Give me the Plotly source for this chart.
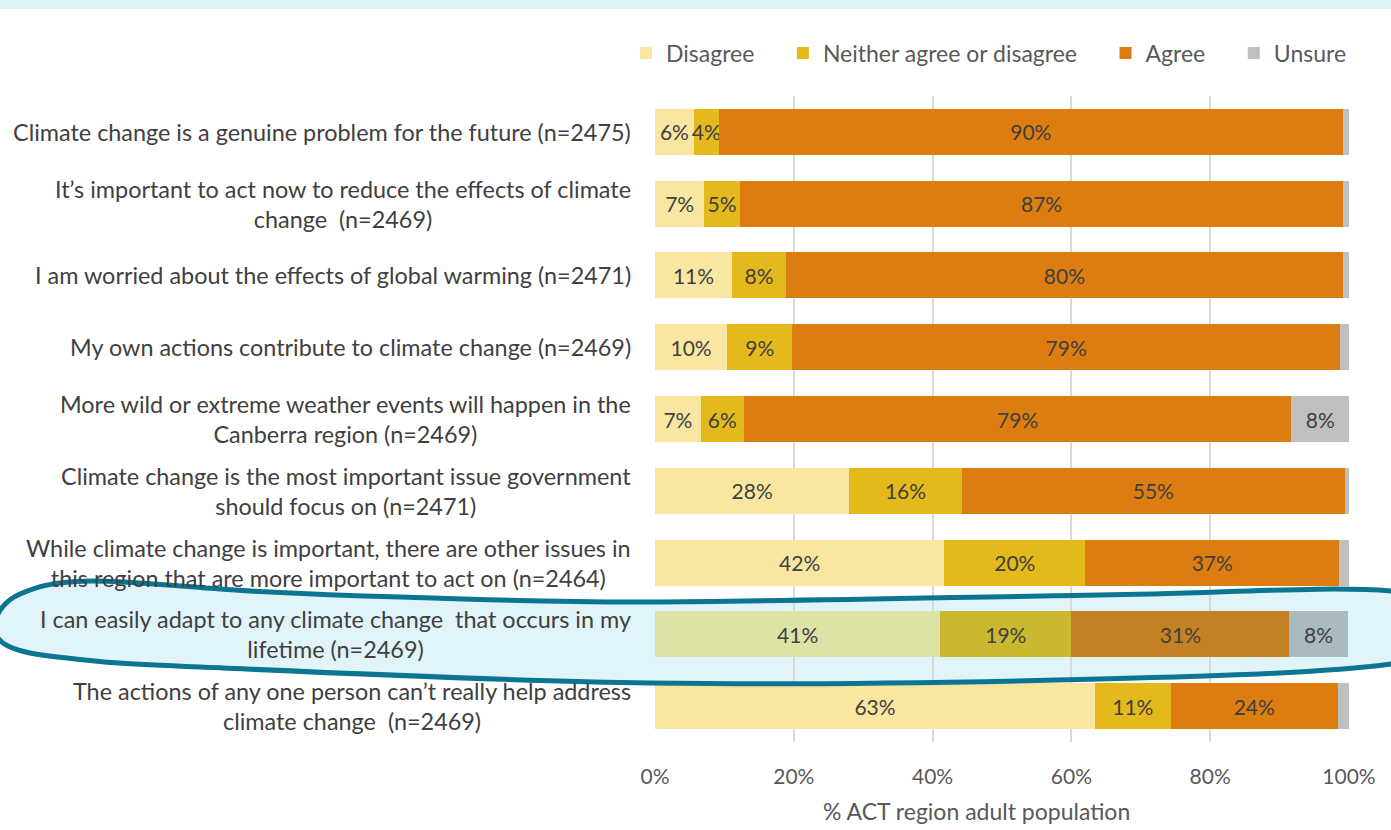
import plotly.graph_objects as go

categories = [
    "Climate change is a genuine problem for the future (n=2475)",
    "It’s important to act now to reduce the effects of climate<br>change  (n=2469)",
    "I am worried about the effects of global warming (n=2471)",
    "My own actions contribute to climate change (n=2469)",
    "More wild or extreme weather events will happen in the<br>Canberra region (n=2469)",
    "Climate change is the most important issue government<br>should focus on (n=2471)",
    "While climate change is important, there are other issues in<br>this region that are more important to act on (n=2464)",
    "I can easily adapt to any climate change  that occurs in my<br>lifetime (n=2469)",
    "The actions of any one person can’t really help address<br>climate change  (n=2469)",
]
disagree = [5.6, 7.1, 11.1, 10.4, 6.6, 28.0, 41.7, 41.1, 63.4]
neither = [3.6, 5.1, 7.8, 9.4, 6.2, 16.2, 20.3, 18.9, 10.9]
agree = [89.9, 87.0, 80.2, 78.9, 78.9, 55.2, 36.6, 31.4, 24.1]
unsure = [0.9, 0.8, 0.9, 1.3, 8.3, 0.6, 1.4, 8.4, 1.6]

series_names = ["Disagree", "Neither agree or disagree", "Agree", "Unsure"]
base_colors = ["#F9E7A1", "#E4B91C", "#DD7D0F", "#BFBFBF"]
highlight_colors = ["#DDE2A7", "#CBB82F", "#C48224", "#A9BBBF"]
highlight_index = 7

x_ticks = [0, 20, 40, 60, 80, 100]
x_ticktext = [f"{v}%" for v in x_ticks]
x_title = "% ACT region adult population"

FONT = "Lato"
TXT = "#404040"
TXT2 = "#595959"
PAD = "\u00a0" * 4

# layout geometry (pixels)
W, H = 1391, 830
ML, MR, MT, MB = 655, 42, 96, 88
PW, PH = W - ML - MR, H - MT - MB


def to_paper(px, py):
    return ((px - ML) / PW, (H - MB - py) / PH)


def closed_smooth_path(points):
    pts = [to_paper(x, y) for x, y in points]
    n = len(pts)
    d = "M {:.5f},{:.5f}".format(*pts[0])
    for i in range(n):
        p0 = pts[(i - 1) % n]
        p1 = pts[i]
        p2 = pts[(i + 1) % n]
        p3 = pts[(i + 2) % n]
        c1 = (p1[0] + (p2[0] - p0[0]) / 6, p1[1] + (p2[1] - p0[1]) / 6)
        c2 = (p2[0] - (p3[0] - p1[0]) / 6, p2[1] - (p3[1] - p1[1]) / 6)
        d += " C {:.5f},{:.5f} {:.5f},{:.5f} {:.5f},{:.5f}".format(*c1, *c2, *p2)
    return d + " Z"


fig = go.Figure()
for k, (name, vals, col, hcol) in enumerate(zip(
        series_names, [disagree, neither, agree, unsure],
        base_colors, highlight_colors)):
    colors = [hcol if i == highlight_index else col for i in range(len(vals))]
    fig.add_trace(go.Bar(
        y=categories, x=vals,
        name=name + (PAD if k < len(series_names) - 1 else ""),
        orientation="h",
        marker=dict(color=colors, line=dict(width=0)),
        text=[f"{round(v)}%" if v >= 3 else "" for v in vals],
        textposition="inside", insidetextanchor="middle",
        constraintext="none", textangle=0,
        textfont=dict(family=FONT, size=21, color=TXT),
        hoverinfo="skip",
    ))

annotations = []
for c in categories:
    annotations.append(dict(
        x=0, xref="paper", y=c, yref="y", xanchor="right", yanchor="middle",
        xshift=-22, text=c, showarrow=False, align="center",
        font=dict(family=FONT, size=23.4, color=TXT),
    ))
annotations.append(dict(
    x=to_paper(976, 0)[0], xref="paper", y=to_paper(0, 811)[1], yref="paper",
    xanchor="center", yanchor="middle", text=x_title, showarrow=False,
    font=dict(family=FONT, size=23, color=TXT2),
))

ellipse_pts = [
    (1391, 591), (1100, 595), (650, 602), (400, 597), (250, 591), (90, 581),
    (20, 594), (-5, 622), (8, 646), (67, 658), (200, 667), (650, 683),
    (1100, 679), (1391, 664), (1470, 628),
]
path = closed_smooth_path(ellipse_pts)

shapes = [
    dict(type="rect", xref="paper", yref="paper",
         x0=to_paper(-10, 0)[0], x1=to_paper(W + 10, 0)[0],
         y0=to_paper(0, 9)[1], y1=to_paper(0, -5)[1],
         fillcolor="#DFF2F8", line=dict(width=0), layer="below"),
    dict(type="path", xref="paper", yref="paper", path=path,
         fillcolor="#E0F4F9", line=dict(width=0), layer="below"),
    dict(type="path", xref="paper", yref="paper", path=path,
         fillcolor="rgba(0,0,0,0)", line=dict(color="#0B7592", width=5),
         layer="above"),
]

fig.update_layout(
    width=W, height=H,
    barmode="stack", bargap=0.36,
    margin=dict(l=ML, r=MR, t=MT, b=MB, pad=0),
    paper_bgcolor="white", plot_bgcolor="rgba(0,0,0,0)",
    font=dict(family=FONT, size=21, color=TXT),
    showlegend=True,
    legend=dict(orientation="h", x=to_paper(626, 0)[0], y=to_paper(0, 53)[1],
                xanchor="left", yanchor="middle", traceorder="normal",
                font=dict(family=FONT, size=23, color=TXT2),
                bgcolor="rgba(0,0,0,0)", itemwidth=30),
    xaxis=dict(range=[0, 100], tickmode="array", tickvals=x_ticks,
               ticktext=x_ticktext,
               showgrid=True, gridcolor="#D9D9D9", gridwidth=2,
               zeroline=False, showline=False,
               ticks="outside", ticklen=16, tickcolor="rgba(0,0,0,0)",
               tickfont=dict(family=FONT, size=21, color=TXT2),
               fixedrange=True),
    yaxis=dict(autorange="reversed", showticklabels=False, showgrid=False,
               zeroline=False, showline=False, ticks="", fixedrange=True),
    annotations=annotations,
    shapes=shapes,
)

fig.write_html("out.html",
               config={"displayModeBar": False},
               post_script="document.body.style.margin='0';"
                           "document.body.style.overflow='hidden';")
